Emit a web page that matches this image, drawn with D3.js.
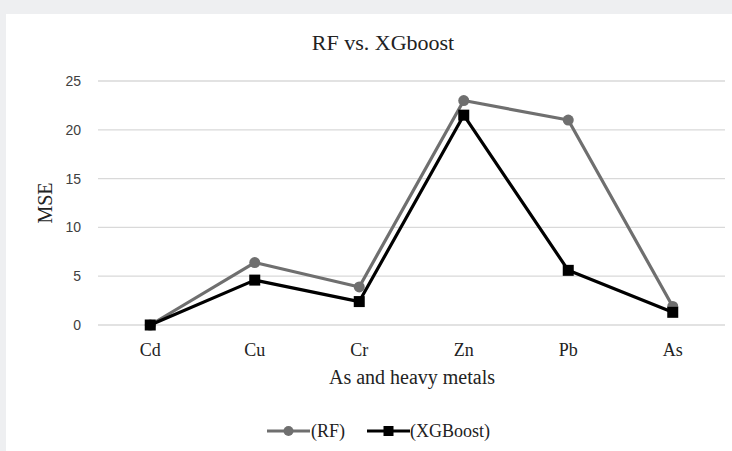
<!DOCTYPE html>
<html>
<head>
<meta charset="utf-8">
<script src="https://cdn.jsdelivr.net/npm/d3@7"></script>
<style>
  html, body { margin: 0; padding: 0; background: #eeeff1; }
  svg { display: block; }
</style>
</head>
<body>
<script>
// 数据
const metals = ["Cd", "Cu", "Cr", "Zn", "Pb", "As"];
const rfValues = [0, 6.4, 3.9, 23.0, 21.0, 1.9];
const xgbValues = [0, 4.6, 2.4, 21.5, 5.6, 1.3];
const yTicks = [0, 5, 10, 15, 20, 25];

const width = 732, height = 451;
const margin = { top: 81, right: 7, bottom: 126, left: 98 };
const serif = '"Liberation Serif", "Times New Roman", serif';

const svg = d3.select('body').append('svg')
    .attr('width', width)
    .attr('height', height);

// 白色面板
svg.append('rect')
    .attr('x', 6).attr('y', 14)
    .attr('width', width - 6).attr('height', height - 14)
    .attr('fill', '#ffffff');

const xScale = d3.scaleBand()
    .domain(metals)
    .range([margin.left, width - margin.right]);

const yScale = d3.scaleLinear()
    .domain([0, 25])
    .range([height - margin.bottom, margin.top]);

// 网格线
svg.selectAll('.grid')
    .data(yTicks)
    .enter().append('line')
    .attr('class', 'grid')
    .attr('x1', margin.left)
    .attr('x2', width - margin.right)
    .attr('y1', d => yScale(d))
    .attr('y2', d => yScale(d))
    .attr('stroke', '#d9d9d9')
    .attr('stroke-width', 1.3);

// y 轴刻度
svg.selectAll('.ytick')
    .data(yTicks)
    .enter().append('text')
    .attr('class', 'ytick')
    .attr('x', 81)
    .attr('y', d => yScale(d))
    .attr('dy', '0.35em')
    .attr('text-anchor', 'end')
    .style('font-family', '"Liberation Sans", Arial, sans-serif')
    .style('font-size', '14px')
    .style('fill', '#404040')
    .text(d => d);

// x 轴类别
svg.selectAll('.xtick')
    .data(metals)
    .enter().append('text')
    .attr('class', 'xtick')
    .attr('x', d => xScale(d) + xScale.bandwidth() / 2)
    .attr('y', 356)
    .attr('text-anchor', 'middle')
    .style('font-family', serif)
    .style('font-size', '18px')
    .style('fill', '#222')
    .text(d => d);

// 标题
svg.append('text')
    .attr('x', 383)
    .attr('y', 50)
    .attr('text-anchor', 'middle')
    .style('font-family', serif)
    .style('font-size', '22px')
    .style('fill', '#222')
    .text('RF vs. XGboost');

// 轴标题
svg.append('text')
    .attr('transform', 'translate(52,' + yScale(12.5) + ') rotate(-90)')
    .attr('text-anchor', 'middle')
    .style('font-family', serif)
    .style('font-size', '20px')
    .style('fill', '#222')
    .text('MSE');

svg.append('text')
    .attr('x', 412)
    .attr('y', 384)
    .attr('text-anchor', 'middle')
    .style('font-family', serif)
    .style('font-size', '20px')
    .style('fill', '#222')
    .text('As and heavy metals');

const xc = d => xScale(d) + xScale.bandwidth() / 2;
const line = d3.line().x(d => xc(d[0])).y(d => yScale(d[1]));

const series = [
    { name: '(RF)', values: rfValues, color: '#6f6f6f', marker: 'circle' },
    { name: '(XGBoost)', values: xgbValues, color: '#000000', marker: 'square' }
];

series.forEach(s => {
    const pts = metals.map((m, i) => [m, s.values[i]]);
    svg.append('path')
        .attr('d', line(pts))
        .attr('fill', 'none')
        .attr('stroke', s.color)
        .attr('stroke-width', 3.2)
        .attr('stroke-linejoin', 'round');
    if (s.marker === 'circle') {
        svg.selectAll(null).data(pts).enter().append('circle')
            .attr('cx', d => xc(d[0]))
            .attr('cy', d => yScale(d[1]))
            .attr('r', 5.5)
            .attr('fill', s.color);
    } else {
        svg.selectAll(null).data(pts).enter().append('rect')
            .attr('x', d => xc(d[0]) - 5.5)
            .attr('y', d => yScale(d[1]) - 5.5)
            .attr('width', 11).attr('height', 11)
            .attr('fill', s.color);
    }
});

// 图例
const legendItems = [
    { s: series[0], x: 267, tx: 311 },
    { s: series[1], x: 367, tx: 410 }
];
legendItems.forEach(item => {
    const g = svg.append('g').attr('transform', 'translate(' + item.x + ',431)');
    g.append('line')
        .attr('x1', 0).attr('x2', 43)
        .attr('stroke', item.s.color)
        .attr('stroke-width', 3.2);
    if (item.s.marker === 'circle') {
        g.append('circle').attr('cx', 21.5).attr('r', 5).attr('fill', item.s.color);
    } else {
        g.append('rect').attr('x', 16.5).attr('y', -5).attr('width', 10).attr('height', 10).attr('fill', item.s.color);
    }
    svg.append('text')
        .attr('x', item.tx)
        .attr('y', 431)
        .attr('dy', '0.35em')
        .style('font-family', serif)
        .style('font-size', '18px')
        .style('fill', '#222')
        .text(item.s.name);
});
</script>
</body>
</html>
